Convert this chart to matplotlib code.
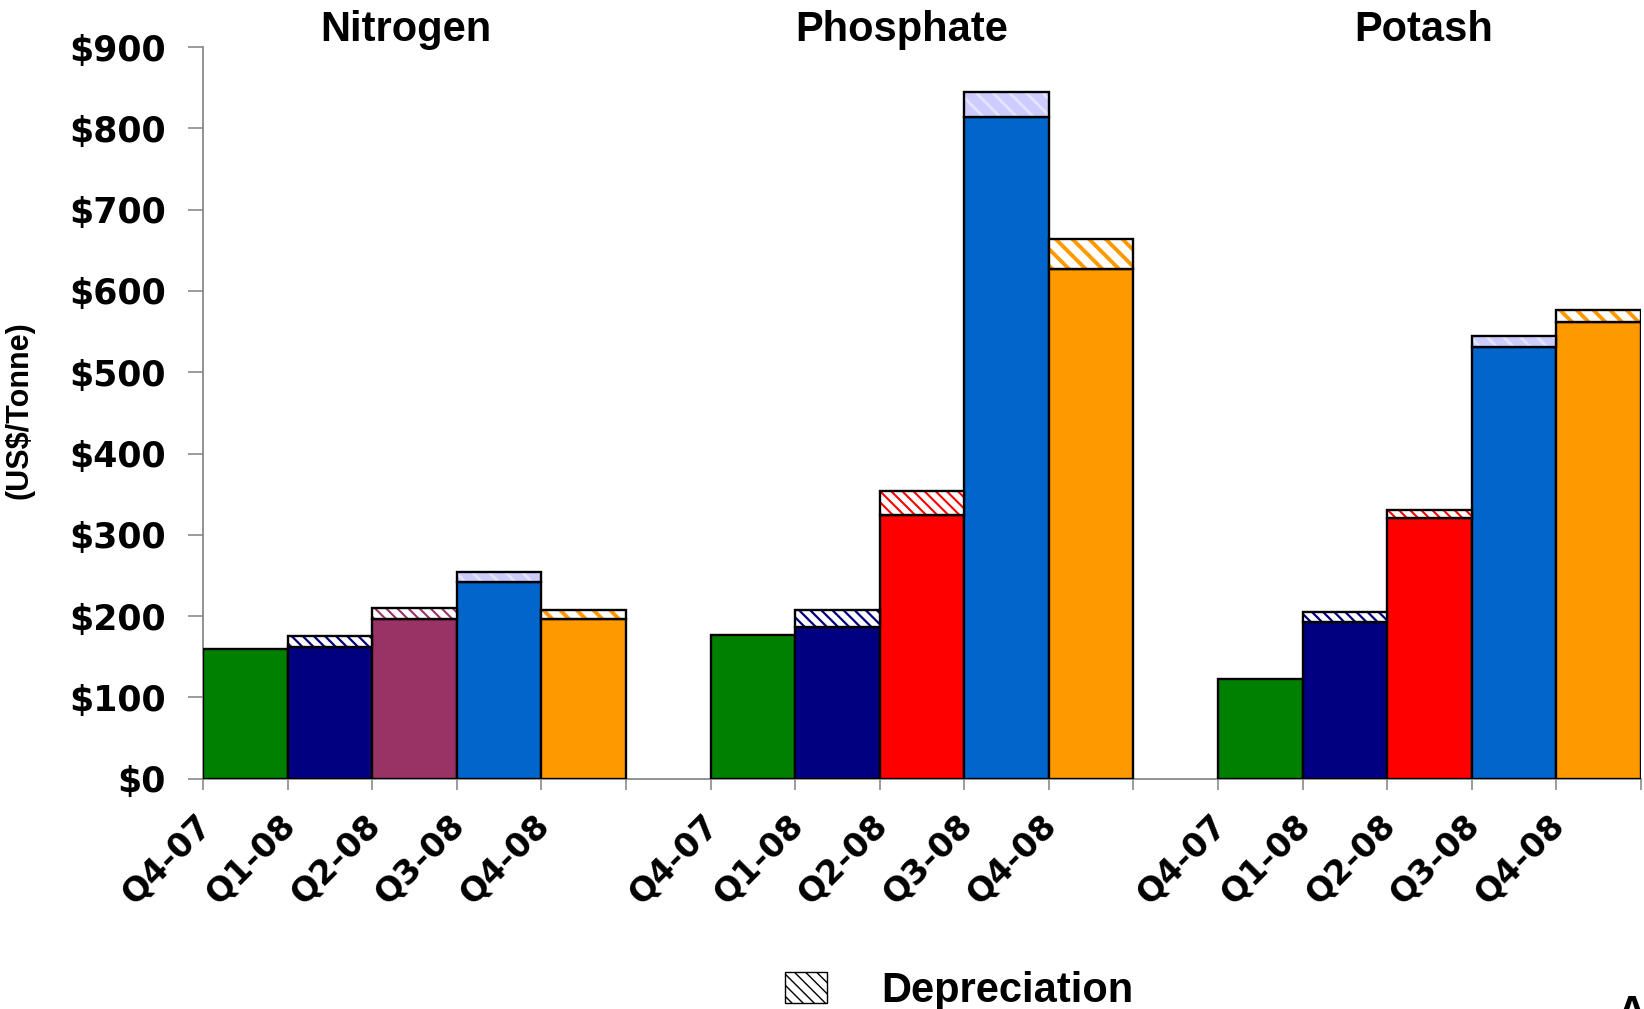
import matplotlib
matplotlib.use("Agg")
import matplotlib.pyplot as plt
import matplotlib.transforms as mtransforms
from matplotlib.patches import Patch

# ---- data (US$/tonne) ----
quarters = ["Q4-07", "Q1-08", "Q2-08", "Q3-08", "Q4-08"]
products = ["Nitrogen", "Phosphate", "Potash"]

nitrogen_cost = [160, 162, 196, 242, 196]
nitrogen_depreciation = [0, 13, 14, 12, 11]
phosphate_cost = [177, 187, 324, 814, 627]
phosphate_depreciation = [0, 20, 30, 31, 37]
potash_cost = [123, 193, 321, 531, 562]
potash_depreciation = [0, 12, 10, 14, 14]

y_ticks = [0, 100, 200, 300, 400, 500, 600, 700, 800, 900]

# ---- styling ----
bar_colors = {
    "Nitrogen": ["#008000", "#000080", "#993366", "#0066CC", "#FF9900"],
    "Phosphate": ["#008000", "#000080", "#FF0000", "#0066CC", "#FF9900"],
    "Potash": ["#008000", "#000080", "#FF0000", "#0066CC", "#FF9900"],
}
# hatch stripe colour, hatch pattern and stripe weight per quarter
hatch_colors = {
    "Nitrogen": [None, "#000080", "#993366", "#CCCCFF", "#FF9900"],
    "Phosphate": [None, "#000080", "#FF0000", "#CCCCFF", "#FF9900"],
    "Potash": [None, "#000080", "#FF0000", "#CCCCFF", "#FF9900"],
}
hatch_patterns = [None, "\\\\\\", "\\\\\\", "\\\\", "\\\\"]
hatch_widths = [1.0, 1.6, 1.5, 2.0, 2.8]

series = {
    "Nitrogen": (nitrogen_cost, nitrogen_depreciation),
    "Phosphate": (phosphate_cost, phosphate_depreciation),
    "Potash": (potash_cost, potash_depreciation),
}

bold_wide = {"family": "DejaVu Sans", "weight": "bold"}
bold_arial = {"family": "Liberation Sans", "weight": "bold"}

W, H = 1644, 1009
fig = plt.figure(figsize=(W / 100, H / 100), dpi=100)
ax = fig.add_axes([203 / W, 1 - 778.7 / H, (1641 - 203) / W, (778.7 - 47) / H])

group_stride = len(quarters) + 1
edge_lw = 1.7

for g, product in enumerate(products):
    cost, dep = series[product]
    x0 = g * group_stride
    xs = [x0 + i for i in range(len(quarters))]
    ax.bar(xs, cost, width=1.0, align="edge", color=bar_colors[product],
           edgecolor="black", linewidth=edge_lw, zorder=3)
    for i, (x, c, d) in enumerate(zip(xs, cost, dep)):
        if d <= 0:
            continue
        hc = hatch_colors[product][i]
        plt.rcParams["hatch.linewidth"] = hatch_widths[i]
        face = "#CCCCFF" if i == 3 else "white"
        stripe = "#E4E4FF" if i == 3 else hc
        hb = ax.bar(x, d, bottom=c, width=1.0, align="edge", color=face,
                    edgecolor=stripe, hatch=hatch_patterns[i], linewidth=0,
                    zorder=3)
        for p in hb:
            if hasattr(p, "set_hatch_linewidth"):
                p.set_hatch_linewidth(hatch_widths[i])
        ax.bar(x, d, bottom=c, width=1.0, align="edge", fill=False,
               edgecolor="black", linewidth=edge_lw, zorder=4)

n_slots = len(products) * group_stride - 1
ax.set_xlim(0, n_slots)
ax.set_ylim(0, 900)

# axes frame
for side in ("top", "right"):
    ax.spines[side].set_visible(False)
for side in ("left", "bottom"):
    ax.spines[side].set_color("#808080")
    ax.spines[side].set_linewidth(1.2)

ax.set_yticks(y_ticks)
ax.set_yticklabels([f"${v}" for v in y_ticks], fontdict=bold_wide, fontsize=25)
ax.tick_params(axis="y", direction="out", length=11, width=1.1,
               color="#808080", pad=16)

ax.set_xticks(range(0, n_slots + 1))
ax.set_xticklabels([])
ax.tick_params(axis="x", direction="out", length=8, width=1.1, color="#808080")

# rotated quarter labels at the left edge of each bar
label_offset = mtransforms.ScaledTranslation(0.03, -0.41, fig.dpi_scale_trans)
for g in range(len(products)):
    for i, q in enumerate(quarters):
        ax.text(g * group_stride + i, 0, q,
                transform=ax.get_xaxis_transform() + label_offset,
                rotation=45, ha="right", va="center", rotation_mode="anchor",
                fontdict=bold_wide, fontsize=24, clip_on=False)

# product titles above each group
title_x = [2.40, 8.26, 14.43]
title_offset = mtransforms.ScaledTranslation(0, 0.06, fig.dpi_scale_trans)
for tx, product in zip(title_x, products):
    ax.text(tx, 1.0, product, transform=ax.get_xaxis_transform() + title_offset,
            ha="center", va="baseline", fontdict=bold_arial, fontsize=30,
            clip_on=False)

fig.text(19 / W, 1 - 410 / H, "(US$/Tonne)", rotation=90, ha="center",
         va="center", fontdict=bold_arial, fontsize=22)

plt.rcParams["hatch.linewidth"] = 1.0
legend_handle = Patch(facecolor="white", edgecolor="black", hatch="\\\\\\",
                      linewidth=1.0, label="Depreciation")
fig.legend(handles=[legend_handle], loc="center left",
           bbox_to_anchor=(785 / W, 1 - 991 / H), frameon=False,
           prop={"family": "Liberation Sans", "weight": "bold", "size": 30},
           handlelength=1.0, handleheight=0.8, handletextpad=1.3,
           borderpad=0, borderaxespad=0)

# corner of a logo cut off at the page edge
fig.text(1617 / W, -16 / H, "A", ha="left", va="baseline",
         fontdict=bold_arial, fontsize=30)

fig.savefig("out.png", dpi=100, facecolor="white")
